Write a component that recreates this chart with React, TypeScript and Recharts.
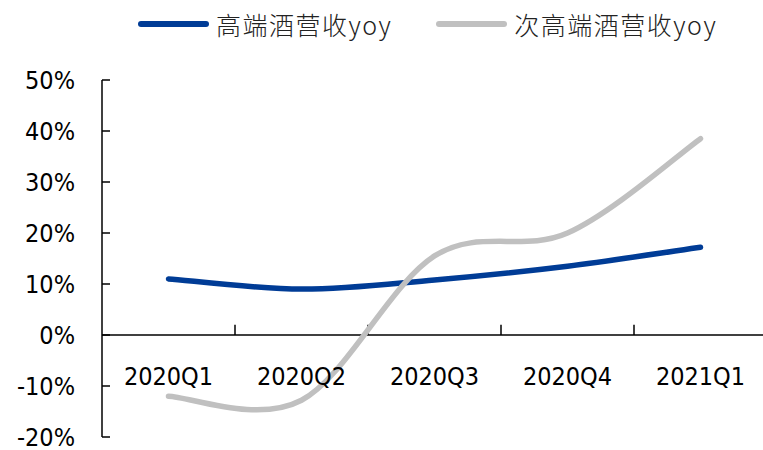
import { LineChart, Line, XAxis, YAxis, ReferenceLine, Legend } from "recharts";

const categories = ["2020Q1", "2020Q2", "2020Q3", "2020Q4", "2021Q1"];
const highEndYoy = [11, 9, 10.8, 13.5, 17.2];
const subHighEndYoy = [-12, -12.8, 15.5, 20, 38.5];
const yTicks = [-20, -10, 0, 10, 20, 30, 40, 50];
const seriesNames = ["高端酒营收yoy", "次高端酒营收yoy"];
const seriesColors = ["#003c96", "#c0c0c0"];

const data = categories.map((name, i) => ({
  idx: i,
  name,
  high: highEndYoy[i],
  sub: subHighEndYoy[i],
}));
const xTicks = categories.map((_, i) => i);
const boundaries = categories.slice(1).map((_, i) => i + 0.5);

const labelFont = "'DejaVu Sans Condensed', 'DejaVu Sans', sans-serif";

// excel-like smoothed line (bezier through every point)
const excelSmooth = (context: any) => {
  let pts: number[][] = [];
  return {
    areaStart() {},
    areaEnd() {},
    lineStart() {
      pts = [];
    },
    point(x: number, y: number) {
      pts.push([+x, +y]);
    },
    lineEnd() {
      if (!pts.length) return;
      context.moveTo(pts[0][0], pts[0][1]);
      for (let i = 0; i < pts.length - 1; i++) {
        const p0 = pts[i - 1] || pts[i];
        const p1 = pts[i];
        const p2 = pts[i + 1];
        const p3 = pts[i + 2] || p2;
        context.bezierCurveTo(
          p1[0] + (p2[0] - p0[0]) / 6,
          p1[1] + (p2[1] - p0[1]) / 6,
          p2[0] - (p3[0] - p1[0]) / 6,
          p2[1] - (p3[1] - p1[1]) / 6,
          p2[0],
          p2[1]
        );
      }
    },
  };
};

const YTick = ({ x, y, payload }: any) => (
  <g>
    <line x1={x} y1={y} x2={x + 8} y2={y} stroke="#000" strokeWidth={1.5} />
    <text
      x={x - 27}
      y={y}
      dy={9}
      textAnchor="end"
      fill="#000"
      fontSize={25}
      fontFamily={labelFont}
    >
      {payload.value}%
    </text>
  </g>
);

const XTick = ({ x, y, payload }: any) => (
  <text
    x={x}
    y={y - 52}
    textAnchor="middle"
    fill="#000"
    fontSize={25}
    fontFamily={labelFont}
  >
    {categories[payload.value]}
  </text>
);

const LegendContent = () => (
  <div style={{ display: "flex", alignItems: "center", paddingLeft: 138, height: 34 }}>
    {seriesNames.map((n, i) => (
      <div
        key={n}
        style={{ display: "flex", alignItems: "center", marginLeft: i === 0 ? 0 : 44 }}
      >
        <div
          style={{
            width: 71,
            height: 6,
            borderRadius: 3,
            background: seriesColors[i],
            marginRight: 7,
          }}
        />
        <span
          style={{
            fontFamily: "'Noto Sans CJK SC', sans-serif",
            fontSize: 25,
            letterSpacing: 1.5,
            color: "#222",
            fontWeight: 300,
          }}
        >
          {n}
        </span>
      </div>
    ))}
  </div>
);

export default function App() {
  return (
    <div
      style={{
        position: "absolute",
        top: 0,
        left: 0,
        width: 763,
        height: 450,
        overflow: "hidden",
        background: "#fff",
      }}
    >
      <LineChart
        width={768}
        height={450}
        data={data}
        margin={{ top: 80, right: 1, bottom: 0, left: 0 }}
      >
        <XAxis
          dataKey="idx"
          type="number"
          domain={[-0.5, 4.5]}
          ticks={xTicks}
          axisLine={false}
          tickLine={false}
          tickSize={0}
          tickMargin={0}
          height={13}
          tick={<XTick />}
          interval={0}
        />
        <YAxis
          type="number"
          domain={[-20, 50]}
          ticks={yTicks}
          interval={0}
          width={102}
          axisLine={{ stroke: "#000", strokeWidth: 1.5 }}
          tickLine={false}
          tickSize={0}
          tickMargin={0}
          tick={<YTick />}
          allowDataOverflow
        />
        <ReferenceLine y={0} stroke="#000" strokeWidth={1.5} />
        {boundaries.map((b) => (
          <ReferenceLine
            key={b}
            segment={[
              { x: b, y: 0 },
              { x: b, y: 2 },
            ]}
            stroke="#000"
            strokeWidth={1.5}
          />
        ))}
        <Legend
          verticalAlign="middle"
          align="center"
          layout="horizontal"
          wrapperStyle={{ top: 7, left: 0, width: 768 }}
          content={<LegendContent />}
        />
        <Line
          dataKey="high"
          name={seriesNames[0]}
          type={excelSmooth as any}
          stroke={seriesColors[0]}
          strokeWidth={5.5}
          strokeLinecap="round"
          dot={false}
          activeDot={false}
          isAnimationActive={false}
        />
        <Line
          dataKey="sub"
          name={seriesNames[1]}
          type={excelSmooth as any}
          stroke={seriesColors[1]}
          strokeWidth={5.5}
          strokeLinecap="round"
          dot={false}
          activeDot={false}
          isAnimationActive={false}
        />
      </LineChart>
    </div>
  );
}
